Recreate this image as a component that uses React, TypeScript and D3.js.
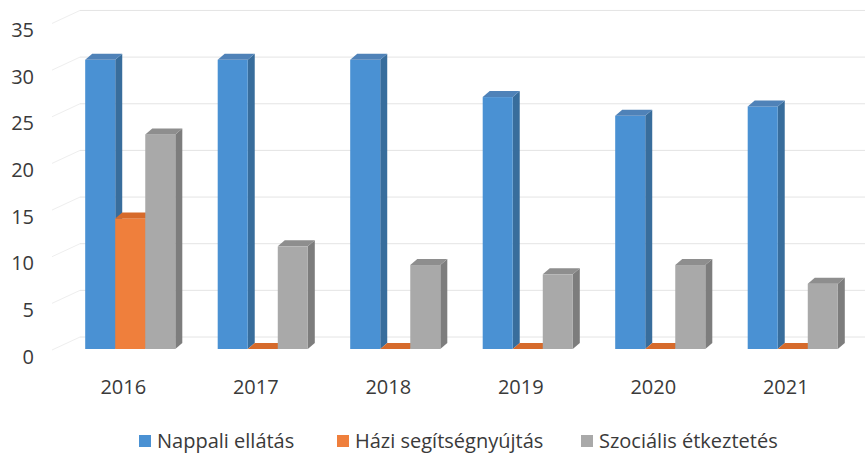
import React from "react";
import * as d3 from "d3";

const years = ["2016", "2017", "2018", "2019", "2020", "2021"];
const seriesNames = ["Nappali ellátás", "Házi segítségnyújtás", "Szociális étkeztetés"];
const nappali = [31, 31, 31, 27, 25, 26];
const hazi = [14, 0, 0, 0, 0, 0];
const szocialis = [23, 11, 9, 8, 9, 7];
const yTicks = [0, 5, 10, 15, 20, 25, 30, 35];

const W = 865;
const H = 455;
const FONT = "'Open Sans', sans-serif";
const TEXT = "#3a3a3a";

const palette = [
  { front: "#4a91d3", side: "#386d9c", top: "#4f82b8" },
  { front: "#ef7f3c", side: "#bf5e22", top: "#d66a2b" },
  { front: "#a9a9a9", side: "#7d7d7d", top: "#8e8e8e" },
];

const legendX = [139, 337, 581];

export default function App() {
  const values = [nappali, hazi, szocialis];
  const x = d3.scaleBand<string>().domain(years).range([57, 852]).paddingInner(0.32).paddingOuter(0.16);
  const inner = d3.scaleBand<number>().domain([0, 1, 2]).range([0, x.bandwidth()]);
  const y = d3.scaleLinear().domain([0, 35]).range([349, 349 - 35 * 9.33]);
  const shift = 7;
  const bdx = 7, bdy = 6;
  const wdx = 28, wdy = 12;
  const wallFrontX = 52;

  const bars: React.ReactNode[] = [];
  years.forEach((yr, ci) => {
    values.forEach((vals, si) => {
      const v = vals[ci];
      const x0 = (x(yr) as number) + shift + (inner(si) as number);
      const x1 = x0 + inner.bandwidth();
      const yt = y(v);
      const yb = y(0);
      const c = palette[si];
      const top = `M${x0},${yt}L${x1},${yt}L${x1 + bdx},${yt - bdy}L${x0 + bdx},${yt - bdy}Z`;
      const side = `M${x1},${yt}L${x1 + bdx},${yt - bdy}L${x1 + bdx},${yb - bdy}L${x1},${yb}Z`;
      bars.push(
        <g key={`${yr}-${si}`}>
          {v > 0 && <path d={side} fill={c.side} />}
          {v > 0 && <rect x={x0} y={yt} width={x1 - x0} height={yb - yt} fill={c.front} />}
          <path d={top} fill={c.top} />
        </g>
      );
    });
  });

  return (
    <svg width={W} height={H} style={{ position: "absolute", left: 0, top: 0, background: "#fff" }}>
      <g>
        {yTicks.map((t) => (
          <g key={t}>
            <line x1={wallFrontX + wdx} x2={W} y1={y(t) - wdy} y2={y(t) - wdy} stroke="#e4e4e4" strokeWidth={1} />
            <line x1={wallFrontX} x2={wallFrontX + wdx} y1={y(t) + 1} y2={y(t) - wdy} stroke="#eeeeee" strokeWidth={1} />
          </g>
        ))}
      </g>
      <g>{bars}</g>
      <g fontFamily={FONT} fontSize={20} fill={TEXT}>
        {yTicks.map((t) => (
          <text key={t} x={34} y={y(t) + 7} textAnchor="end" dominantBaseline="central">
            {t}
          </text>
        ))}
        {years.map((yr) => (
          <text key={yr} x={(x(yr) as number) + x.bandwidth() / 2} y={386} textAnchor="middle" dominantBaseline="central">
            {yr}
          </text>
        ))}
      </g>
      <g fontFamily={FONT} fontSize={20} fill={TEXT}>
        {seriesNames.map((n, i) => (
          <g key={n} transform={`translate(${legendX[i]},0)`}>
            <rect x={0} y={435} width={12} height={12} fill={palette[i].front} />
            <text x={18} y={448}>{n}</text>
          </g>
        ))}
      </g>
    </svg>
  );
}
